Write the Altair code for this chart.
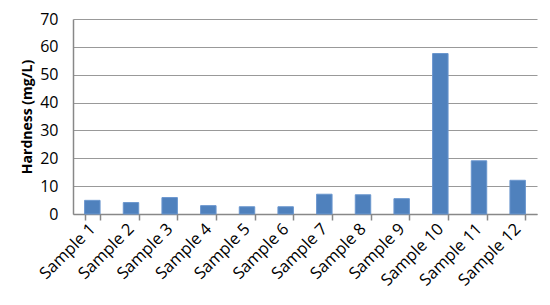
import altair as alt
import pandas as pd

samples = [f"Sample {i}" for i in range(1, 13)]
hardness = [4.9, 4.1, 5.9, 3.0, 2.6, 2.6, 7.1, 6.9, 5.5, 57.6, 19.1, 12.1]

df = pd.DataFrame({"sample": samples, "hardness": hardness})

FONT = "Open Sans"

chart = alt.Chart(df).mark_bar(
    color="#4F81BD", stroke="#6A96CE", strokeWidth=1
).encode(
    x=alt.X("sample:N", sort=samples, title=None,
            scale=alt.Scale(paddingInner=0.6, paddingOuter=0.3),
            axis=alt.Axis(labelAngle=-45, labelFontSize=16.5, labelFont=FONT,
                          labelColor="#000000", tickBand="extent", ticks=True,
                          tickSize=6, tickColor="#888888", domainColor="#888888",
                          labelPadding=6, labelAlign="right", labelBaseline="middle")),
    y=alt.Y("hardness:Q", title="Hardness (mg/L)",
            scale=alt.Scale(domain=[0, 70]),
            axis=alt.Axis(values=list(range(0, 71, 10)), labelFontSize=16, labelFont=FONT,
                          labelColor="#000000", ticks=False, labelPadding=15,
                          domainColor="#888888", gridColor="#999999",
                          titleFont=FONT, titleFontSize=14, titleFontWeight="bold",
                          titleColor="#000000", titlePadding=5)),
).properties(
    width=464, height=195,
    autosize=alt.AutoSizeParams(type="none"),
    padding={"left": 65, "top": 11, "right": 5, "bottom": 83},
).configure_view(stroke=None).configure_axis(gridWidth=1.2, domainWidth=1.5, tickWidth=1.5)

chart.save("out.html", embed_options={"renderer": "svg", "actions": False})
